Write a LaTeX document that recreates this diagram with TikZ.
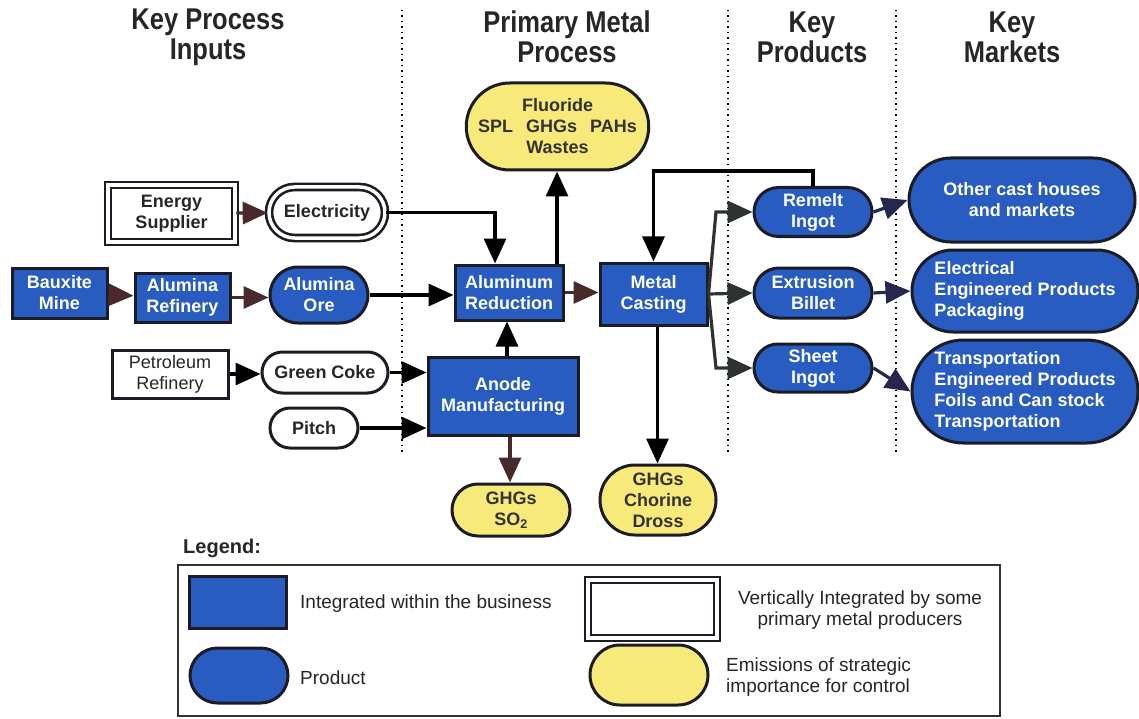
\documentclass[tikz,border=0pt]{standalone}
\usepackage{fontspec}
\setmainfont{Liberation Sans}
\newfontfamily\headfont[FakeStretch=0.85]{Liberation Sans}
\usetikzlibrary{arrows.meta,shapes.misc}

\definecolor{boxblue}{RGB}{40,92,192}
\definecolor{emisyellow}{RGB}{248,234,122}
\definecolor{edgecol}{RGB}{28,28,38}
\definecolor{brownarr}{RGB}{72,42,42}
\definecolor{navyarr}{RGB}{38,38,78}
\definecolor{darkarr}{RGB}{45,50,50}

\tikzset{
  every node/.style={font=\fontsize{18}{21}\selectfont\bfseries, align=center, inner sep=2pt},
  proc/.style={rectangle, draw=edgecol, line width=3pt, fill=boxblue, text=white},
  prod/.style={rounded rectangle, draw=edgecol, line width=3pt, fill=boxblue, text=white},
  emis/.style={rounded rectangle, draw=edgecol, line width=3pt, fill=emisyellow, text=black!80},
  vbox/.style={rectangle, draw=edgecol, double=white, double distance=3.5pt, line width=2.6pt, fill=white, text=black!85},
  vprod/.style={rounded rectangle, draw=edgecol, double=white, double distance=3.5pt, line width=2.6pt, text=black!85},
  wbox/.style={rectangle, draw=edgecol, line width=3pt, fill=white, text=black!85},
  wprod/.style={rounded rectangle, draw=edgecol, line width=3pt, fill=white, text=black!85},
  flow/.style={line width=3.2pt, -{Triangle[length=25pt,width=22pt]}},
  divider/.style={line width=1.4pt, dash pattern=on 1.5pt off 4pt},
  header/.style={font=\headfont\bfseries\fontsize{30}{30}\selectfont, text=black!85},
  legtext/.style={font=\fontsize{19}{21}\selectfont, text=black!85},
  sz/.style 2 args={minimum width=#1pt, minimum height=#2pt}
}

\begin{document}
\begin{tikzpicture}[x=1pt, y=-1pt]
\useasboundingbox (0,0) rectangle (1139,719);

% column headers
\node[header] (h1) at (208,37) {Key Process\\Inputs};
\node[header] (h2) at (567,37) {Primary Metal\\Process};
\node[header] (h3) at (812,37) {Key\\Products};
\node[header] (h4) at (1012,37) {Key\\Markets};

% column dividers
\draw[divider] (402,10) -- (402,452);
\draw[divider] (728,10) -- (728,452);
\draw[divider] (896,10) -- (896,452);

% key process inputs
\node[vbox, sz={127}{57}]  (energy)   at (171.5,213.5) {Energy\\Supplier};
\node[vprod, sz={120}{51}] (elec)     at (327,212.5)   {Electricity};
\node[proc, sz={95}{50}]   (bauxite)  at (59.5,293)    {Bauxite\\Mine};
\node[proc, sz={95}{49}]   (refinery) at (182.5,297.5) {Alumina\\Refinery};
\node[prod, sz={102}{56}]  (ore)      at (319,295)     {Alumina\\Ore};
\node[wbox, sz={116}{48}, font=\fontsize{18}{21}\selectfont] (petro) at (170,374) {Petroleum\\Refinery};
\node[wprod, sz={130}{41}] (coke)     at (325,372.5)   {Green Coke};
\node[wprod, sz={92}{40}]  (pitch)    at (314,428)     {Pitch};

% primary metal process
\node[proc, sz={108}{55}]  (alred)    at (509,292.5)   {Aluminum\\Reduction};
\node[emis, sz={179}{87}]  (fluor)    at (557.5,126.5) {Fluoride\\SPL\hspace{13pt}GHGs\hspace{13pt}PAHs\\Wastes};
\node[proc, sz={150}{78}]  (anode)    at (503,396)     {Anode\\Manufacturing};
\node[emis, sz={122}{52}]  (ghgso)    at (511,510)     {GHGs\\SO\textsubscript{2}};
\node[proc, sz={107}{62}]  (casting)  at (653.5,294)   {Metal\\Casting};
\node[emis, sz={120}{70}]  (dross)    at (658,500)     {GHGs\\Chorine\\Dross};

% key products
\node[prod, sz={122}{49}]  (remelt)   at (813,212)     {Remelt\\Ingot};
\node[prod, sz={122}{50}]  (billet)   at (813,293)     {Extrusion\\Billet};
\node[prod, sz={122}{48}]  (sheet)    at (813,368)     {Sheet\\Ingot};

% key markets
\node[prod, sz={230}{84}]  (castmkt)  at (1022,200)    {Other cast houses\\and markets};
\node[prod, sz={230}{82}, align=left] (elecmkt) at (1025,291) {Electrical\\Engineered Products\\Packaging};
\node[prod, sz={230}{103}, align=left] (transmkt) at (1025,391.5) {Transportation\\Engineered Products\\Foils and Can stock\\Transportation};

% branch points out of casting
\coordinate (bup) at (716,212);
\coordinate (bdn) at (716,368);

% input flows
\draw[flow, draw=brownarr] (energy) -- (elec);
\draw[flow] (elec.east) -| ([xshift=-14pt]alred.north);
\draw[flow, draw=brownarr] (bauxite) -- (refinery);
\draw[flow, draw=brownarr] (refinery.east) -- (refinery.east -| ore.west);
\draw[flow] (ore.east) -- (ore.east -| alred.west);
\draw[flow] (petro) -- (petro -| coke.west);
\draw[flow] (coke.east) -- (coke.east -| anode.west);
\draw[flow] (pitch.east) -- (pitch.east -| anode.west);

% process flows
\draw[flow] ([xshift=4pt]anode.north) -- ([xshift=4pt]anode.north |- alred.south);
\draw[flow, draw=brownarr] ([xshift=7pt]anode.south) -- ([xshift=7pt]anode.south |- ghgso.north);
\draw[flow] ([xshift=48pt]alred.north) -- ([xshift=48pt]alred.north |- fluor.south);
\draw[flow, draw=brownarr] (alred.east) -- (alred.east -| casting.west);
\draw[flow] ([xshift=4pt]casting.south) -- ([xshift=4pt]casting.south |- dross.north);
\draw[flow] (remelt.north) -- ++(0,-15) -| (casting.north);

% product flows
\draw[flow, draw=darkarr] (casting.east) -- (bup) -- (remelt.west);
\draw[flow, draw=darkarr] (casting.east) -- (billet.west);
\draw[flow, draw=darkarr] (casting.east) -- (bdn) -- (sheet.west);

% market flows
\draw[flow, draw=navyarr] (remelt.east) -- (castmkt.west);
\draw[flow, draw=navyarr] (billet.east) -- (elecmkt.west);
\draw[flow, draw=navyarr] (sheet.east) -- (transmkt.west);

% legend
\node[anchor=west, font=\fontsize{20}{22}\selectfont\bfseries, text=black!85] (legtitle) at (181,548) {Legend:};
\draw[line width=1.5pt, draw=black!80] (178,565) rectangle (1000,716);
\node[proc, sz={97}{52}]   (legproc) at (237.5,602) {};
\node[prod, sz={102}{55}]  (legprod) at (239,675.5) {};
\node[vbox, sz={129}{58}]  (legvert) at (652.5,609) {};
\node[emis, sz={122}{60}]  (legemis) at (649,675)   {};
\node[legtext, anchor=west] (tproc) at (298,604) {Integrated within the business};
\node[legtext, anchor=west] (tprod) at (298,678) {Product};
\node[legtext] (tvert) at (860,610) {Vertically Integrated by some\\primary metal producers};
\node[legtext, anchor=west, align=left] (temis) at (724,677) {Emissions of strategic\\importance for control};
\end{tikzpicture}
\end{document}
